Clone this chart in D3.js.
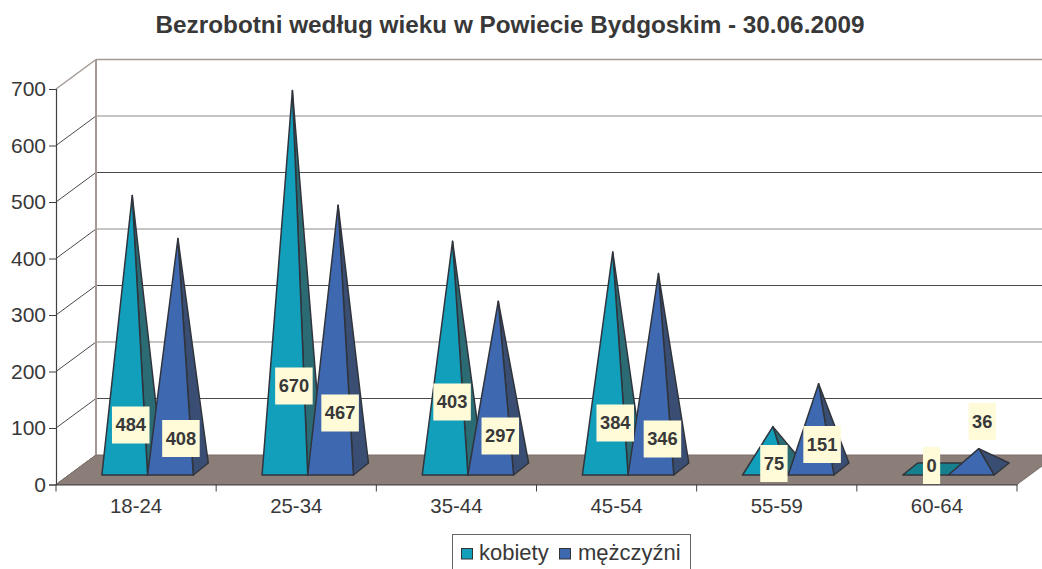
<!DOCTYPE html>
<html><head><meta charset="utf-8">
<script src="https://cdn.jsdelivr.net/npm/d3@7"></script>
<style>html,body{margin:0;background:#fff}svg{display:block}text{font-family:"Liberation Sans",Arial,sans-serif;fill:#383838}</style>
</head><body><svg id="c" width="1042" height="569"></svg>
<script>
const categories = ["18-24","25-34","35-44","45-54","55-59","60-64"];
const kobiety = [484,670,403,384,75,0];
const mezczyzni = [408,467,297,346,151,36];
const seriesNames = ["kobiety","mężczyźni"];
const yTicks = [0,100,200,300,400,500,600,700];
const title = "Bezrobotni według wieku w Powiecie Bydgoskim - 30.06.2009";
// label anchors, hand-placed in the original: centre offsets from the pyramid's axis (x) and centre height in px
const labelDxK = [6,9,7,10,8.5,6], labelYK = [425,386,402,423,463.5,465.5];
const labelDxM = [10.5,9.5,9.5,11.5,11,11], labelYM = [438.5,413,436,439,444.5,421.5];

const svg = d3.select("#c");
const W=1042,H=569;
const x0=56,x1=1017,dx=40,dy=29.5;
const y=d3.scaleLinear().domain([0,700]).range([484.5,89]);
const x=d3.scaleBand().domain(categories).range([x0,x1]);
const wall="#A39A95", dark="#404040", gridC="#4a4a4a";
svg.append("clipPath").attr("id","clip").append("rect").attr("width",W).attr("height",H);
const g=svg.append("g").attr("clip-path","url(#clip)");
yTicks.forEach(t=>{
  const c = t===700? wall : gridC;
  g.append("line").attr("x1",x0).attr("y1",y(t)).attr("x2",x0+dx).attr("y2",y(t)-dy).attr("stroke",c).attr("stroke-width",t===700?1.5:1);
  if(t>0) g.append("line").attr("x1",x0+dx).attr("y1",y(t)-dy).attr("x2",x1+dx).attr("y2",y(t)-dy).attr("stroke",t===700?wall:(t%200===0?"#8f8a88":gridC)).attr("stroke-width",t===700?1.5:1.2);
});
g.append("line").attr("x1",x0+dx).attr("y1",y(700)-dy).attr("x2",x0+dx).attr("y2",y(0)-dy).attr("stroke",wall).attr("stroke-width",2);
g.append("path").attr("d",d3.line()([[x0,y(0)],[x0+dx,y(0)-dy],[x1+dx,y(0)-dy],[x1,y(0)]])+"Z").attr("fill","#8B7D78").attr("stroke","#7d6f6a").attr("stroke-width",1);
const axL=svg.append("g").attr("transform",`translate(${x0},0)`).call(d3.axisLeft(y).tickValues(yTicks).tickSize(7).tickPadding(3).tickFormat(d3.format("d")));
axL.selectAll("text").style("font-size","21px");
const axB=svg.append("g").attr("transform",`translate(0,${y(0)})`).call(d3.axisBottom(x).tickSize(0).tickPadding(14));
axB.selectAll("text").style("font-size","20.4px");
axB.selectAll(".tick line").remove();
axB.selectAll(".cat").data([x0,...categories.map(c=>x(c)+x.bandwidth())]).join("line").attr("x1",d=>d).attr("x2",d=>d).attr("y1",0).attr("y2",7).attr("stroke",dark);
svg.selectAll(".domain").attr("stroke",dark).attr("stroke-width",1.2);
svg.selectAll(".tick line").attr("stroke",dark);
const pw=45.7,zx1=12.5,zy1=9.5,zx=15,zy=12;
const series=[
 {v:kobiety,front:"#119FBC",side:"#2A6B74",base:"#17808F",off:-pw,ldx:labelDxK,ly:labelYK},
 {v:mezczyzni,front:"#3E69B1",side:"#3A4E73",base:"#3E69B1",off:0,ldx:labelDxM,ly:labelYM}];
const py=g.append("g").attr("stroke","#30343c").attr("stroke-width",1.5).attr("stroke-linejoin","round");
const unit=(y(0)-y(1));
categories.forEach((c,i)=>{series.forEach(s=>{
  const L=x(c)+x.bandwidth()/2+zx1-1+s.off, R=L+pw, yF=y(0)-zy1, yB=yF-zy;
  const ax=(L+R)/2+zx/2, ay=(yF+yB)/2-s.v[i]*unit;
  const v=s.v[i];
  if(v===0){py.append("path").attr("d",d3.line()([[L,yF],[R,yF],[R+zx,yB],[L+zx,yB]])+"Z").attr("fill",s.base);return;}
  py.append("path").attr("d",d3.line()([[R,yF],[R+zx,yB],[ax,ay]])+"Z").attr("fill",s.side);
  py.append("path").attr("d",d3.line()([[L,yF],[R,yF],[ax,ay]])+"Z").attr("fill",s.front);
});});
categories.forEach((c,i)=>{series.forEach(s=>{
  const L=x(c)+x.bandwidth()/2+zx1-1+s.off, cx=L+pw/2+s.ldx[i], cy=s.ly[i];
  const gl=svg.append("g");
  const r=gl.append("rect").attr("fill","#FFFBD8");
  const t=gl.append("text").attr("x",cx).attr("y",cy).attr("dy","0.35em").attr("text-anchor","middle").style("font-size","18.3px").style("font-weight","700").text(s.v[i]);
  const w=t.node().getComputedTextLength()+7;
  r.attr("x",cx-w/2).attr("y",cy-18.5).attr("width",w).attr("height",37);
});});
svg.append("text").attr("x",510).attr("y",33).attr("text-anchor","middle").style("font-size","24.3px").style("font-weight","700").text(title);
const lg=svg.append("g");
lg.append("rect").attr("x",452.5).attr("y",534.5).attr("width",238).attr("height",40).attr("fill","#fff").attr("stroke","#666");
[[461,series[0].front,479,seriesNames[0]],[559,series[1].front,578,seriesNames[1]]].forEach(([a,f,b,n])=>{
  lg.append("rect").attr("x",a+.5).attr("y",548.5).attr("width",11).attr("height",10.5).attr("fill",f).attr("stroke","#333");
  lg.append("text").attr("x",b).attr("y",560).style("font-size","22px").text(n);
});
</script></body></html>
